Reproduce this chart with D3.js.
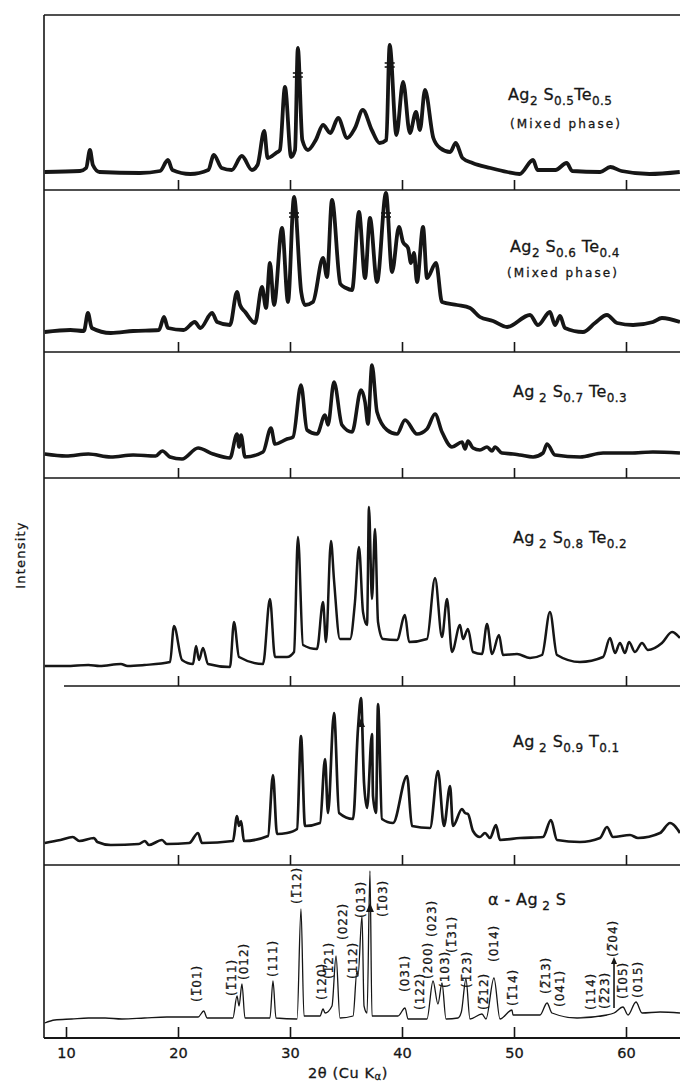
<!DOCTYPE html>
<html lang="en">
<head>
<meta charset="UTF-8">
<title>XRD patterns Ag2S(1-x)Te(x)</title>
<script src="https://d3js.org/d3.v7.min.js"></script>
<style>
  body { margin: 0; background: #fff; }
  text { font-family: "DejaVu Sans", sans-serif; fill: #161616; stroke: #161616; stroke-width: 0.3px; }
</style>
</head>
<body>
<svg id="xrd" width="680" height="1086"></svg>
<script>
// 2theta (deg), intensity (arbitrary units, height above the panel floor)
const s05te05 = [[8.1,18],[11.25,19],[11.8,22],[12.14,40],[12.4,25],[13.0,18],[16.6,17],[18.4,19],[19.1,30],[19.5,20],[21.1,16],[22.7,20],[23.2,35],[23.9,22],[24.8,20],[25.7,34],[26.6,20],[27.1,25],[27.7,59],[28.0,32],[28.75,37],[29.1,40],[29.55,103],[30.1,33],[30.45,40],[30.7,142],[31.1,50],[31.6,40],[32.3,50],[32.95,65],[33.6,57],[34.3,72],[35.1,52],[35.8,62],[36.5,80],[37.3,60],[38.0,47],[38.6,50],[38.9,145],[39.5,55],[40.1,108],[40.7,57],[41.25,78],[41.6,60],[42.05,100],[42.8,52],[43.4,42],[44.3,38],[44.8,47],[45.4,32],[46.3,27],[47.9,22],[49.4,18],[50.5,16],[51.7,30],[52.1,20],[53.7,20],[54.7,27],[55.2,19],[57.7,18],[58.6,23],[59.6,19],[62.1,16],[64.8,18]];

const s06te04 = [[8.1,20],[10.4,22],[11.6,21],[11.96,39],[12.3,24],[14.0,19],[16.0,21],[18.3,22],[18.75,35],[19.1,24],[20.5,22],[21.5,30],[22.0,24],[23.04,39],[23.5,30],[24.64,27],[25.27,60],[25.54,47],[26.0,40],[26.88,29],[27.5,65],[27.86,44],[28.21,89],[28.57,47],[29.29,124],[29.82,50],[30.36,155],[31.0,60],[31.34,47],[32.05,50],[32.95,94],[33.3,75],[33.75,152],[34.5,68],[35.0,64],[35.54,62],[36.16,140],[36.7,74],[37.14,134],[37.77,70],[38.57,159],[39.11,80],[39.73,125],[40.09,110],[40.54,104],[40.8,89],[41.07,99],[41.34,70],[41.88,125],[42.23,74],[43.04,89],[43.57,50],[44.91,47],[46.07,44],[46.96,35],[48.13,31],[49.38,25],[51.43,37],[52.14,27],[53.21,40],[53.66,27],[54.11,36],[54.55,24],[56.16,20],[57.23,29],[58.3,37],[59.2,29],[60.63,27],[62.41,30],[63.21,34],[64.82,30]];

const s07te03 = [[8.1,24],[10.0,22],[12.0,24],[14.0,21],[16.0,23],[18.0,22],[18.6,27],[19.29,21],[20.36,19],[21.79,30],[23.13,24],[24.64,20],[25.27,44],[25.45,31],[25.63,43],[25.98,21],[27.59,26],[28.3,50],[28.66,34],[29.73,39],[30.27,41],[30.98,93],[31.52,48],[32.41,44],[33.13,63],[33.39,53],[33.93,96],[34.64,53],[35.54,46],[36.34,88],[36.7,76],[36.96,54],[37.32,113],[37.77,66],[38.66,48],[39.55,44],[40.27,58],[41.34,44],[42.23,49],[42.95,64],[43.57,46],[44.46,31],[45.36,36],[45.63,29],[45.89,37],[46.34,30],[46.96,28],[47.59,31],[48.04,27],[48.3,31],[48.93,25],[49.91,24],[50.54,23],[51.7,21],[52.59,25],[52.95,34],[53.66,23],[55.9,21],[57.95,25],[60.4,25],[62.4,26],[64.82,25]];

const s08te02 = [[8.1,20],[10,20],[12,21],[13,20],[14.9,22],[15.5,20],[17,21],[19.29,24],[19.64,60],[20.36,26],[21.34,22],[21.61,40],[21.88,26],[22.23,38],[22.68,22],[24.64,19],[25.0,64],[25.45,29],[27.59,22],[28.21,87],[28.66,29],[29.73,29],[30.36,34],[30.71,149],[31.16,41],[32.41,37],[32.95,84],[33.21,44],[33.66,145],[33.93,106],[34.46,47],[35.36,47],[35.8,84],[36.16,139],[36.52,74],[36.88,61],[37.05,179],[37.32,87],[37.59,157],[37.86,64],[38.3,47],[39.55,46],[40.27,71],[40.63,44],[42.23,47],[42.95,108],[43.57,49],[44.02,87],[44.46,34],[45.18,61],[45.45,47],[45.89,57],[46.34,34],[47.14,32],[47.59,62],[48.04,32],[48.66,51],[49.02,31],[50.27,32],[51.43,28],[52.5,31],[53.21,74],[53.84,31],[55.89,24],[57.95,29],[58.57,48],[59.02,33],[59.46,43],[59.91,33],[60.27,44],[60.8,34],[61.43,43],[61.96,36],[63.21,43],[64.11,54],[64.82,48]];

const s09te01 = [[8.1,22],[9.5,25],[10.6,28],[11.2,24],[12.5,27],[12.8,23],[14.0,20],[16.5,21],[17.05,24],[17.4,20],[18.57,25],[19.0,21],[21.0,22],[21.79,32],[22.14,22],[24.91,24],[25.27,49],[25.45,39],[25.63,44],[25.89,24],[28.04,29],[28.48,90],[28.84,31],[29.73,32],[30.63,36],[30.98,129],[31.34,39],[32.68,42],[33.13,106],[33.39,52],[33.93,152],[34.38,52],[35.63,46],[36.07,136],[36.34,167],[36.61,82],[36.88,57],[37.32,131],[37.41,69],[37.68,52],[37.86,161],[38.21,46],[39.2,42],[40.45,89],[40.89,39],[42.5,37],[43.21,94],[43.75,39],[44.29,79],[44.55,39],[45.36,56],[45.63,52],[45.89,51],[46.34,34],[46.96,28],[47.41,32],[47.86,27],[48.39,40],[48.75,25],[50.54,27],[52.59,28],[53.3,45],[53.84,25],[55.89,23],[57.68,27],[58.3,38],[58.84,28],[60.36,30],[61.07,27],[63.04,32],[63.93,42],[64.82,32]];

const alphaAg2S = [[8.1,15],[9.0,18],[10.5,19],[12,20],[13.5,20],[15,19],[17,20],[19,21],[21.8,21],[22.3,27],[22.6,20],[24.9,20],[25.27,42],[25.45,32],[25.71,54],[25.98,20],[28.21,20],[28.48,57],[28.75,20],[30.63,19],[30.98,129],[31.25,22],[32.68,22],[32.95,29],[33.13,25],[33.75,32],[34.11,82],[34.46,20],[35.63,22],[35.98,67],[36.07,62],[36.43,122],[36.61,32],[36.88,25],[37.14,167],[37.32,22],[39.2,22],[39.64,22],[40.27,30],[40.54,19],[42.23,19],[42.77,57],[43.21,34],[43.57,55],[43.93,19],[45.0,20],[45.3,26],[45.71,59],[46.07,19],[47.14,24],[47.5,19],[48.21,60],[48.75,19],[49.82,28],[49.91,23],[52.32,23],[52.95,35],[53.39,25],[55.63,20],[58.3,23],[58.93,25],[59.73,31],[60.18,23],[60.89,36],[61.43,25],[63.04,26],[64.82,25]];

// Miller indices for alpha-Ag2S: [2theta, intensity at label start, text] ("~" = overbar on next digit)
const millerLabels = [[21.7,36,"(~101)"],[24.8,42,"(~111)"],[25.9,58,"(012)"],[28.5,61,"(111)"],[30.6,134,"(~112)"],[32.9,38,"(120)"],[33.5,59,"(~121)"],[34.7,98,"(022)"],[35.6,59,"(112)"],[36.3,120,"(013)"],[38.3,121,"(~103)"],[40.3,46,"(031)"],[41.6,28,"(122)"],[42.3,59,"(200)"],[42.7,101,"(023)"],[43.8,50,"(103)"],[44.5,85,"(~131)"],[45.8,50,"(~123)"],[47.3,28,"(~212)"],[48.2,76,"(014)"],[49.9,32,"(~114)"],[52.9,44,"(~213)"],[54.1,31,"(041)"],[56.9,28,"(114)"],[58.1,29,"(~223)"],[58.8,81,"(~204)"],[59.7,39,"(~105)"],[61.1,40,"(015)"]];

const bottomTicks = [10, 20, 30, 40, 50, 60];
const panelTicks = [20, 30, 40, 50, 60];

// break marks on truncated peaks: [panel, 2theta, intensity]
const breakMarks = [[0, 30.7, 115], [0, 38.9, 125], [1, 30.36, 137], [1, 38.57, 137]];
const starMarks = [[4, 36.34, 141], [5, 37.14, 129]];
const arrowMark = [58.93, 30, 81];

const titles = [
  ["Ag", "_2", " S", "_0.5", "Te", "_0.5"],
  ["Ag", "_2", " S", "_0.6", " Te", "_0.4"],
  ["Ag", "_ 2", " S", "_0.7", " Te", "_0.3"],
  ["Ag", "_ 2", " S", "_0.8", " Te", "_0.2"],
  ["Ag", "_ 2", " S", "_0.9", " T", "_0.1"],
  ["\u03b1 - Ag", "_ 2", " S"]
];
const subNotes = ["(Mixed phase)", "(Mixed phase)", null, null, null, null];

// layout
const series = [s05te05, s06te04, s07te03, s08te02, s09te01, alphaAg2S];
const panelTop = [15, 190, 352, 478, 686, 865];
const panelBottom = [190, 352, 478, 686, 865, 1038];
const lineWidth = [3.8, 3.8, 3.6, 2.5, 2.7, 1.3];
const titlePos = [[508, 100], [510, 252], [513, 397], [513, 543], [513, 747], [488, 905]];
const notePos = [[510, 128], [507, 277]];
const xLeft = 44, xRight = 680;
const ink = "#161616";

const svg = d3.select("#xrd");
const x = d3.scaleLinear().domain([10, 60]).range([66, 626]);

const ys = panelTop.map((t, i) => d3.scaleLinear()
  .domain([0, panelBottom[i] - t])
  .range([panelBottom[i], t]));

// frame: left edge, top edge, separators
svg.append("line")
  .attr("x1", xLeft).attr("x2", xLeft)
  .attr("y1", panelTop[0]).attr("y2", panelBottom[5])
  .attr("stroke", ink).attr("stroke-width", 1.6);
svg.append("line")
  .attr("x1", xLeft).attr("x2", xRight)
  .attr("y1", panelTop[0]).attr("y2", panelTop[0])
  .attr("stroke", ink).attr("stroke-width", 1.6);

panelBottom.forEach((b, i) => {
  const start = i === 3 ? 64 : xLeft;
  svg.append("line")
    .attr("x1", start).attr("x2", xRight)
    .attr("y1", b).attr("y2", b)
    .attr("stroke", ink).attr("stroke-width", i === 5 ? 1.8 : 1.6);

  const ax = svg.append("g")
    .attr("transform", `translate(0,${b})`)
    .call(i === 5
      ? d3.axisBottom(x).tickValues(bottomTicks).tickSizeInner(-11).tickSizeOuter(0).tickPadding(10)
      : d3.axisBottom(x).tickValues(panelTicks).tickSizeInner(-10).tickSizeOuter(0).tickFormat(""));
  ax.select(".domain").remove();
  ax.selectAll(".tick line").attr("stroke", ink).attr("stroke-width", 1.6);
  ax.selectAll(".tick text")
    .attr("font-family", "DejaVu Sans")
    .attr("font-size", 14.5)
    .attr("fill", ink);
});

// traces
const line = (yScale) => d3.line()
  .curve(d3.curveMonotoneX)
  .x(d => x(d[0]))
  .y(d => yScale(d[1]));

series.forEach((data, i) => {
  svg.append("path")
    .datum(data)
    .attr("fill", "none")
    .attr("stroke", ink)
    .attr("stroke-width", lineWidth[i])
    .attr("stroke-linejoin", "round")
    .attr("d", line(ys[i]));
});

// break marks
breakMarks.forEach(([p, t, v]) => {
  [-2, 2].forEach(off => {
    svg.append("line")
      .attr("x1", x(t) - 5).attr("x2", x(t) + 5)
      .attr("y1", ys[p](v) + off).attr("y2", ys[p](v) + off)
      .attr("stroke", ink).attr("stroke-width", 1.6);
  });
});
starMarks.forEach(([p, t, v]) => {
  const cx = x(t), cy = ys[p](v);
  svg.append("path")
    .attr("d", `M${cx},${cy - 6}L${cx + 4},${cy + 3}L${cx - 4},${cy + 3}Z`)
    .attr("fill", ink);
});

// arrow on (-204)
{
  const [t, v0, v1] = arrowMark;
  const ax = x(t);
  svg.append("line")
    .attr("x1", ax).attr("x2", ax)
    .attr("y1", ys[5](v0)).attr("y2", ys[5](v1) + 4)
    .attr("stroke", ink).attr("stroke-width", 1.6);
  svg.append("path")
    .attr("d", `M${ax},${ys[5](v1)}L${ax + 3},${ys[5](v1) + 7}L${ax - 3},${ys[5](v1) + 7}Z`)
    .attr("fill", ink);
}

// Miller index labels
svg.append("g").selectAll("text")
  .data(millerLabels)
  .join("text")
  .attr("transform", d => `translate(${x(d[0])},${ys[5](d[1])}) rotate(-90)`)
  .attr("dominant-baseline", "central")
  .attr("font-size", 12)
  .attr("letter-spacing", 1)
  .text(d => d[2].replace(/~(\d)/g, "$1\u0305"));

// sample titles
titles.forEach((segs, i) => {
  const t = svg.append("text")
    .attr("x", titlePos[i][0])
    .attr("y", titlePos[i][1])
    .attr("font-size", 16)
    .attr("letter-spacing", 0.4);
  let low = false;
  segs.forEach(s => {
    const sub = s.startsWith("_");
    const ts = t.append("tspan")
      .attr("font-size", sub ? 12 : 16)
      .text(sub ? s.slice(1) : s);
    if (sub && !low) { ts.attr("dy", 5); low = true; }
    else if (!sub && low) { ts.attr("dy", -5); low = false; }
  });
  if (subNotes[i]) {
    svg.append("text")
      .attr("x", notePos[i][0])
      .attr("y", notePos[i][1])
      .attr("font-size", 12)
      .attr("letter-spacing", 2.1)
      .text(subNotes[i]);
  }
});

// axis titles
svg.append("text")
  .attr("transform", "translate(20,555) rotate(-90)")
  .attr("text-anchor", "middle")
  .attr("dominant-baseline", "central")
  .attr("font-size", 13)
  .attr("letter-spacing", 1.2)
  .text("Intensity");

const xt = svg.append("text")
  .attr("x", 348)
  .attr("y", 1078)
  .attr("text-anchor", "middle")
  .attr("font-size", 14.5)
  .attr("letter-spacing", 0.6);
xt.append("tspan").text("2\u03b8 (Cu K");
xt.append("tspan").attr("font-size", 10).attr("dy", 2).text("\u03b1");
xt.append("tspan").attr("dy", -2).text(")");
</script>
</body>
</html>
